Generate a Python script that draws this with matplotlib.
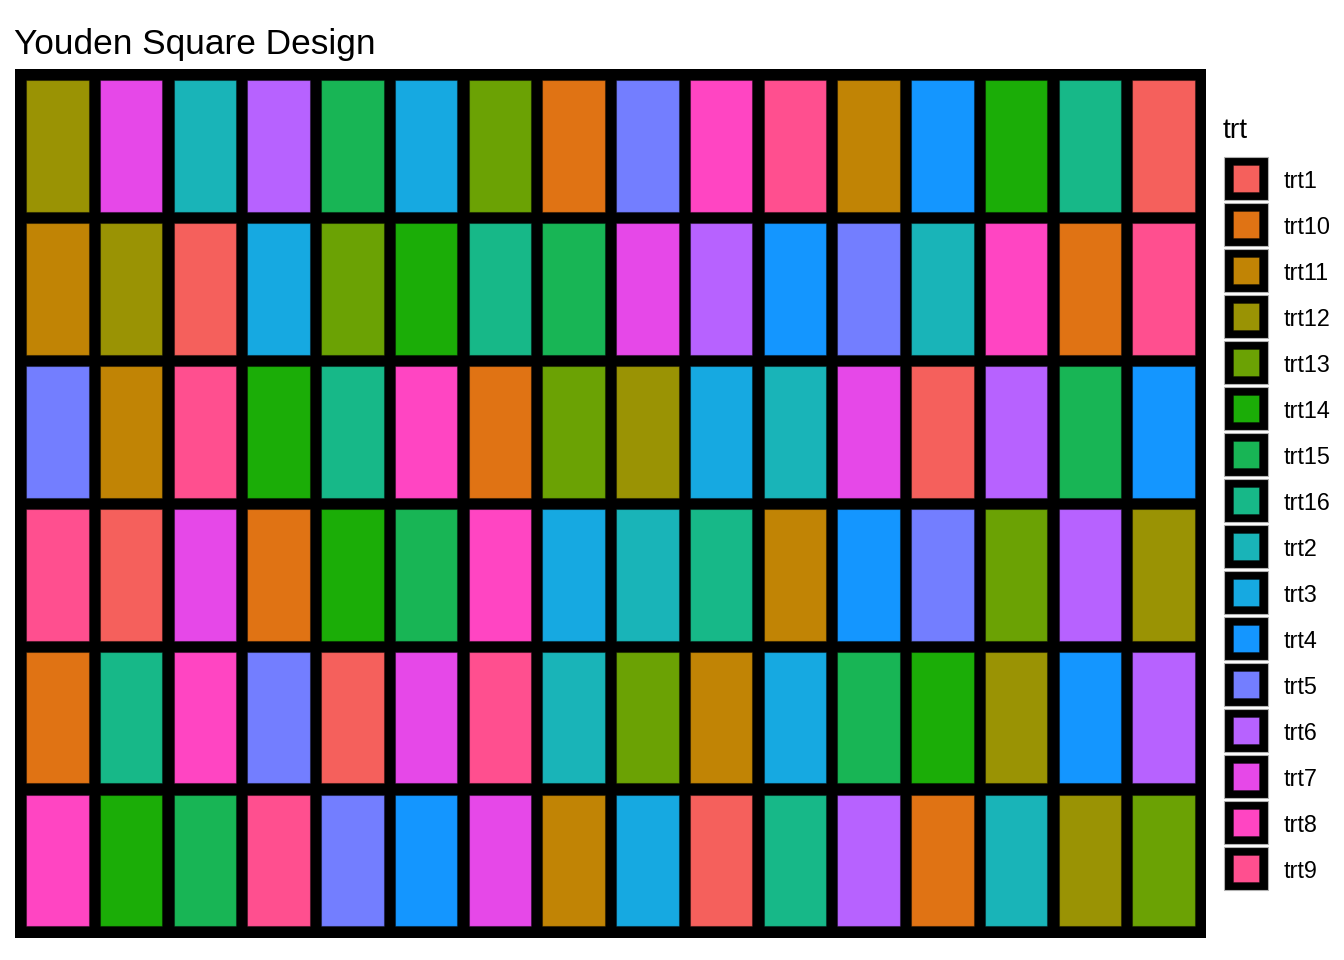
import matplotlib
matplotlib.use("Agg")
import matplotlib.pyplot as plt
import numpy as np

plt.rcParams['font.family'] = ['Liberation Sans', 'DejaVu Sans']

#---DATA
treatments = ['trt1', 'trt10', 'trt11', 'trt12', 'trt13', 'trt14', 'trt15', 'trt16',
              'trt2', 'trt3', 'trt4', 'trt5', 'trt6', 'trt7', 'trt8', 'trt9']
trt_colors = ['#F5605C', '#E07314', '#C18405', '#9A9304', '#6BA204', '#1BAD07',
              '#18B555', '#17B888', '#19B4B8', '#16A9E1', '#1496FF', '#737EFF',
              '#B762FF', '#E648E8', '#FF45C2', '#FF4F8F']

# rows listed top to bottom, 16 columns each (treatment number)
row1 = [12, 7, 2, 6, 15, 3, 13, 10, 5, 8, 9, 11, 4, 14, 16, 1]
row2 = [11, 12, 1, 3, 13, 14, 16, 15, 7, 6, 4, 5, 2, 8, 10, 9]
row3 = [5, 11, 9, 14, 16, 8, 10, 13, 12, 3, 2, 7, 1, 6, 15, 4]
row4 = [9, 1, 7, 10, 14, 15, 8, 3, 2, 16, 11, 4, 5, 13, 6, 12]
row5 = [10, 16, 8, 5, 1, 7, 9, 2, 13, 11, 3, 15, 14, 12, 4, 6]
row6 = [8, 14, 15, 9, 5, 4, 7, 11, 3, 1, 16, 6, 10, 2, 12, 13]
rows = [row1, row2, row3, row4, row5, row6]

color_of = dict(zip(treatments, trt_colors))

#---FIGURE
W, H = 1344, 960
fig = plt.figure(figsize=(W / 100, H / 100), dpi=100)
ax = fig.add_axes([15 / W, 1 - 937.7 / H, (1206 - 15) / W, (937.7 - 69) / H])
ax.set_facecolor('black')

tw, th = 0.85, 0.92
for r, row in enumerate(rows, start=1):
    cols = np.arange(1, len(row) + 1)
    cs = [color_of['trt%d' % t] for t in row]
    ax.bar(cols, th, bottom=r - th / 2, width=tw, color=cs,
           edgecolor=(0, 0, 0, 0.35), linewidth=0.8)

ax.set_xlim(1 - tw / 2 - 0.15, 16 + tw / 2 + 0.15)
ax.set_ylim(6 + th / 2 + 0.08, 1 - th / 2 - 0.08)
ax.set_xticks([])
ax.set_yticks([])
for s in ax.spines.values():
    s.set_visible(False)

fig.text(14 / W, 1 - 54 / H, 'Youden Square Design', fontsize=25.4,
         ha='left', va='baseline', color='black')

#---LEGEND (pixel coords)
lax = fig.add_axes([0, 0, 1, 1], facecolor='none')
lax.set_xlim(0, W)
lax.set_ylim(H, 0)
lax.axis('off')
lax.text(1223, 138, 'trt', fontsize=20.5, ha='left', va='baseline')
for i, (name, col) in enumerate(zip(treatments, trt_colors)):
    cy = 178.7 + 46 * i
    lax.add_patch(plt.Rectangle((1224.3, cy - 21.7), 43.4, 43.4, facecolor='black',
                                edgecolor='#B0B0B0', linewidth=0.8))
    lax.add_patch(plt.Rectangle((1232.7, cy - 13.3), 26.6, 26.6, facecolor=col,
                                edgecolor=(0, 0, 0, 0.35), linewidth=0.6))
    lax.text(1284, cy + 9.3, name, fontsize=16.8, ha='left', va='baseline')

fig.savefig('out.png', dpi=100)
